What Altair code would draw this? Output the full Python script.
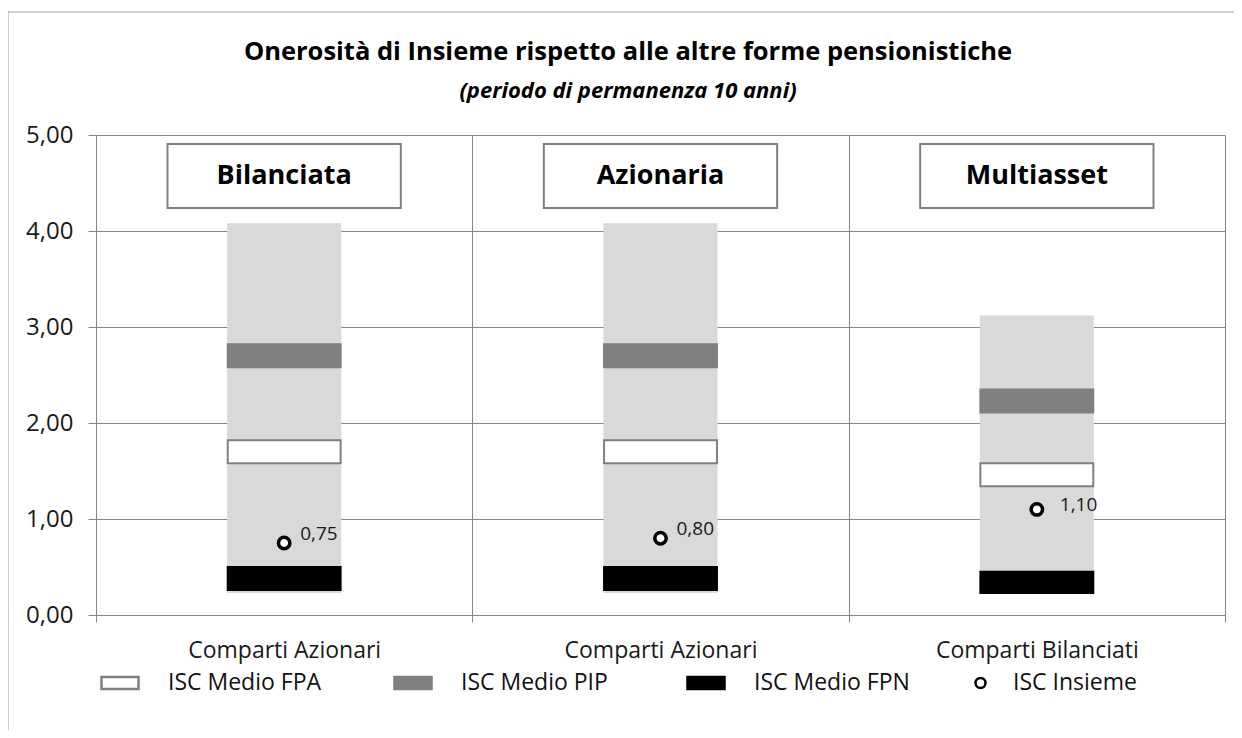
import altair as alt
import pandas as pd

# ---- data ----
groups = ["Bilanciata", "Azionaria", "Multiasset"]
categories = ["Comparti Azionari", "Comparti Azionari", "Comparti Bilanciati"]
range_min = [0.23, 0.23, 0.23]
range_max = [4.08, 4.08, 3.12]
fpa_low = [1.58, 1.58, 1.34]
fpa_high = [1.82, 1.82, 1.58]
pip_low = [2.58, 2.58, 2.11]
pip_high = [2.82, 2.82, 2.35]
fpn_low = [0.26, 0.26, 0.23]
fpn_high = [0.50, 0.50, 0.45]
insieme = [0.75, 0.80, 1.10]
series = ["ISC Medio FPA", "ISC Medio PIP", "ISC Medio FPN", "ISC Insieme"]

title_text = "Onerosità di Insieme rispetto alle altre forme pensionistiche"
subtitle_text = "(periodo di permanenza 10 anni)"

FONT = "Open Sans"
W, H = 1129, 480

range_df = pd.DataFrame({"grp": groups, "lo": range_min, "hi": range_max})
bands = []
for i, g in enumerate(groups):
    bands.append({"grp": g, "serie": series[0], "lo": fpa_low[i], "hi": fpa_high[i]})
    bands.append({"grp": g, "serie": series[1], "lo": pip_low[i], "hi": pip_high[i]})
    bands.append({"grp": g, "serie": series[2], "lo": fpn_low[i], "hi": fpn_high[i]})
bands_df = pd.DataFrame(bands)
pts_df = pd.DataFrame({"grp": groups, "serie": [series[3]] * 3, "v": insieme})
head_df = pd.DataFrame({"grp": groups})
one_df = pd.DataFrame({"k": [0]})
title_df = pd.DataFrame({"t": [title_text]})
subtitle_df = pd.DataFrame({"t": [subtitle_text]})

label_expr = " : ".join(
    f"datum.value == '{g}' ? '{c}'" for g, c in zip(groups, categories)
) + " : ''"

xscale = alt.Scale(domain=groups, paddingInner=0, paddingOuter=0)
yscale = alt.Scale(domain=[0, 5], nice=False)

x_main = alt.X(
    "grp:N", scale=xscale, title=None,
    axis=alt.Axis(
        labelExpr=label_expr, labelAngle=0, tickBand="extent", grid=True,
        gridColor="#868686", tickColor="#868686", domainColor="#868686",
        tickSize=7, labelPadding=17, labelFontSize=23, labelFont=FONT,
        labelColor="#1a1a1a", labelLimit=400,
    ),
)
y_main = alt.Y(
    "lo:Q", scale=yscale, title=None,
    axis=alt.Axis(
        values=[0, 1, 2, 3, 4, 5],
        labelExpr="replace(format(datum.value, '.2f'), '.', ',')",
        grid=True, gridColor="#868686", tickColor="#868686", domainColor="#868686",
        tickSize=8, labelPadding=15, labelFontSize=24, labelFont=FONT,
        labelColor="#1a1a1a",
    ),
)

fill_scale = alt.Scale(domain=series, range=["#ffffff", "#808080", "#000000", "#ffffff"])
stroke_scale = alt.Scale(domain=series, range=["#808080", "#808080", "#000000", "#000000"])
rect_path = "M-1,-0.32H1V0.32H-1Z"
circ_path = "M-1.27,0A0.27,0.27 0 1,0 -0.73,0A0.27,0.27 0 1,0 -1.27,0Z"
last = series[3]

legend = alt.Legend(
    title=None, orient="none", legendX=4, legendY=528, direction="horizontal",
    columns=4, gridAlign="all", columnPadding=60, symbolSize=1369,
    symbolStrokeWidth=2.5, labelFont=FONT, labelFontSize=23, labelColor="#111111",
    labelOffset={"expr": f"datum.value == '{last}' ? -6 : 28"},
    padding=0, symbolOpacity=1, labelLimit=300,
    symbolType={"expr": f"datum.value == '{last}' ? '{circ_path}' : '{rect_path}'"},
)

frame = alt.Chart(one_df).mark_rect(fill="transparent", stroke="#a0a0a0", strokeWidth=1).encode(
    x=alt.value(-88), x2=alt.value(W + 300), y=alt.value(-123), y2=alt.value(H + 300)
)

title_mark = alt.Chart(title_df).mark_text(
    font=FONT, fontSize=25.5, fontWeight="bold", color="#000000", baseline="middle", align="center"
).encode(x=alt.value(532), y=alt.value(-83), text="t:N")

subtitle_mark = alt.Chart(subtitle_df).mark_text(
    font=FONT, fontSize=22, fontWeight="bold", fontStyle="italic", color="#000000",
    baseline="middle", align="center"
).encode(x=alt.value(532), y=alt.value(-44), text="t:N")

rng = alt.Chart(range_df).mark_bar(color="#d9d9d9", width=alt.RelativeBandSize(0.303)).encode(
    x=x_main, y=y_main, y2="hi:Q"
)

band_bars = alt.Chart(bands_df).mark_bar(width=alt.RelativeBandSize(0.30), strokeWidth=2).encode(
    x="grp:N",
    y="lo:Q",
    y2="hi:Q",
    fill=alt.Fill("serie:N", scale=fill_scale, legend=legend),
    stroke=alt.Stroke("serie:N", scale=stroke_scale, legend=legend),
)

points = alt.Chart(pts_df).mark_point(
    shape="circle", size=130, strokeWidth=3.5, opacity=1, filled=False
).encode(
    x="grp:N",
    y=alt.Y("v:Q"),
    fill=alt.Fill("serie:N", scale=fill_scale, legend=legend),
    stroke=alt.Stroke("serie:N", scale=stroke_scale, legend=legend),
)

lab_calc = "replace(format(datum.v, '.2f'), '.', ',')"
pt_labels_a = alt.Chart(pts_df).transform_filter(
    f"datum.grp != '{groups[2]}'"
).transform_calculate(lab=lab_calc).mark_text(
    align="left", baseline="middle", dx=16, dy=-9, font=FONT, fontSize=19, color="#1a1a1a"
).encode(x="grp:N", y="v:Q", text="lab:N")

pt_labels_b = alt.Chart(pts_df).transform_filter(
    f"datum.grp == '{groups[2]}'"
).transform_calculate(lab=lab_calc).mark_text(
    align="left", baseline="middle", dx=23, dy=-4, font=FONT, fontSize=19, color="#1a1a1a"
).encode(x="grp:N", y="v:Q", text="lab:N")

heads = alt.Chart(head_df).mark_bar(
    width=alt.RelativeBandSize(0.62), fill="#ffffff", stroke="#808080", strokeWidth=2
).encode(x="grp:N", y=alt.value(9), y2=alt.value(73))

head_text = alt.Chart(head_df).mark_text(
    font=FONT, fontSize=27, fontWeight="bold", color="#000000", baseline="middle"
).encode(x="grp:N", y=alt.value(41), text="grp:N")

chart = alt.layer(
    frame, title_mark, subtitle_mark, rng, band_bars, points, pt_labels_a, pt_labels_b,
    heads, head_text
).properties(
    width=W,
    height=H,
    autosize=alt.AutoSizeParams(type="none"),
    padding={"left": 88, "top": 127, "right": 9, "bottom": 115},
).configure_view(strokeWidth=0)

chart.save("out.html", embed_options={"renderer": "svg", "actions": False})
